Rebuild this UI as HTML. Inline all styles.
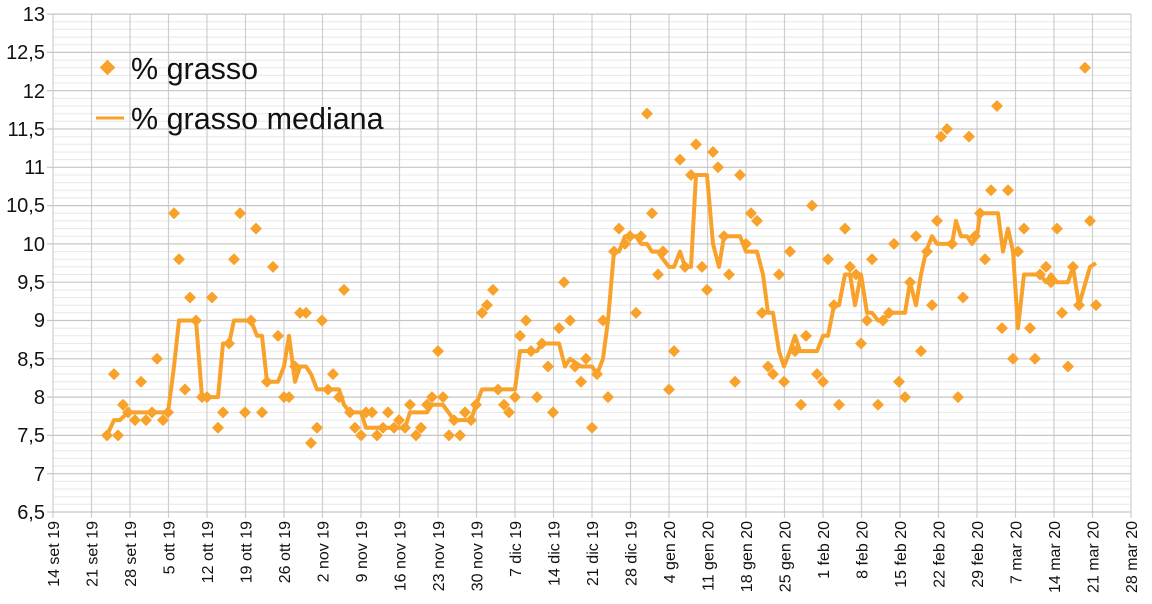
<!DOCTYPE html>
<html><head><meta charset="utf-8"><style>
html,body{margin:0;padding:0;background:#fff;}
svg{display:block;font-family:"Liberation Sans",sans-serif;}
</style></head><body>
<svg id="s" width="1152" height="604" viewBox="0 0 1152 604" xmlns="http://www.w3.org/2000/svg">
<g id="grid"></g>
<g font-size="20" fill="#111" text-anchor="end">
<text x="45" y="21">13</text><text x="45" y="59">12,5</text><text x="45" y="98">12</text><text x="45" y="136">11,5</text><text x="45" y="174">11</text><text x="45" y="212">10,5</text><text x="45" y="251">10</text><text x="45" y="289">9,5</text><text x="45" y="327">9</text><text x="45" y="366">8,5</text><text x="45" y="404">8</text><text x="45" y="442">7,5</text><text x="45" y="481">7</text><text x="45" y="519">6,5</text>
</g>
<g font-size="16" fill="#111" text-anchor="end">
<text transform="translate(59,521) rotate(-90)">14 set 19</text>
<text transform="translate(97.5,521) rotate(-90)">21 set 19</text>
<text transform="translate(136,521) rotate(-90)">28 set 19</text>
<text transform="translate(174.5,521) rotate(-90)">5 ott 19</text>
<text transform="translate(213,521) rotate(-90)">12 ott 19</text>
<text transform="translate(251.5,521) rotate(-90)">19 ott 19</text>
<text transform="translate(290,521) rotate(-90)">26 ott 19</text>
<text transform="translate(328.5,521) rotate(-90)">2 nov 19</text>
<text transform="translate(367,521) rotate(-90)">9 nov 19</text>
<text transform="translate(405.5,521) rotate(-90)">16 nov 19</text>
<text transform="translate(444,521) rotate(-90)">23 nov 19</text>
<text transform="translate(482.5,521) rotate(-90)">30 nov 19</text>
<text transform="translate(521,521) rotate(-90)">7 dic 19</text>
<text transform="translate(559.5,521) rotate(-90)">14 dic 19</text>
<text transform="translate(598,521) rotate(-90)">21 dic 19</text>
<text transform="translate(636.5,521) rotate(-90)">28 dic 19</text>
<text transform="translate(675,521) rotate(-90)">4 gen 20</text>
<text transform="translate(713.5,521) rotate(-90)">11 gen 20</text>
<text transform="translate(752,521) rotate(-90)">18 gen 20</text>
<text transform="translate(790.5,521) rotate(-90)">25 gen 20</text>
<text transform="translate(829,521) rotate(-90)">1 feb 20</text>
<text transform="translate(867.5,521) rotate(-90)">8 feb 20</text>
<text transform="translate(906,521) rotate(-90)">15 feb 20</text>
<text transform="translate(944.5,521) rotate(-90)">22 feb 20</text>
<text transform="translate(983,521) rotate(-90)">29 feb 20</text>
<text transform="translate(1021.5,521) rotate(-90)">7 mar 20</text>
<text transform="translate(1060,521) rotate(-90)">14 mar 20</text>
<text transform="translate(1098.5,521) rotate(-90)">21 mar 20</text>
<text transform="translate(1137,521) rotate(-90)">28 mar 20</text>
</g>
<polyline id="med" fill="none" stroke="#f8a12b" stroke-width="4" stroke-linejoin="round"/>
<g id="pts" fill="#f8a12b"></g>
<rect x="102" y="62" width="11" height="11" fill="#f8a12b" transform="rotate(45 107.5 67.5)"/>
<text x="131" y="79" font-size="30.5" fill="#111">% grasso</text>
<line x1="96" y1="118" x2="124" y2="118" stroke="#f8a12b" stroke-width="3"/>
<text x="131" y="129" font-size="30.5" fill="#111">% grasso mediana</text>
</svg>
<script>
function Y(v){return 512-(v-6.5)*76.6;}
var g=document.getElementById('grid'),h='';
for(var i=0;i<=65;i++){var v=6.5+i*0.1,y=Y(v).toFixed(1);var maj=(i%5==0);
 if(!maj)h+='<line x1="53" x2="1131" y1="'+y+'" y2="'+y+'" stroke="#e8e8e8" stroke-width="1"/>';}
for(var k=0;k<=28;k++){var x=53+k*38.5;h+='<line x1="'+x+'" x2="'+x+'" y1="14" y2="518" stroke="#cfcfcf" stroke-width="1.2"/>';}
for(var i=0;i<=13;i++){var y=Y(6.5+i*0.5).toFixed(1);h+='<line x1="47" x2="1131" y1="'+y+'" y2="'+y+'" stroke="#c6c6c6" stroke-width="1.2"/>';}
g.innerHTML=h;
var P=[[107,7.5],[114,8.3],[118,7.5],[123,7.9],[128,7.8],[135,7.7],[141,8.2],[146,7.7],[152,7.8],[157,8.5],[163,7.7],[168,7.8],[174,10.4],[179,9.8],[185,8.1],[190,9.3],[196,9.0],[202,8.0],[207,8.0],[212,9.3],[218,7.6],[223,7.8],[229,8.7],[234,9.8],[240,10.4],[245,7.8],[251,9.0],[256,10.2],[262,7.8],[267,8.2],[273,9.7],[278,8.8],[284,8.0],[289,8.0],[295,8.4],[300,9.1],[306,9.1],[311,7.4],[317,7.6],[322,9.0],[328,8.1],[333,8.3],[339,8.0],[344,9.4],[350,7.8],[355,7.6],[361,7.5],[366,7.8],[372,7.8],[377,7.5],[383,7.6],[388,7.8],[394,7.6],[399,7.7],[405,7.6],[410,7.9],[416,7.5],[421,7.6],[427,7.9],[432,8.0],[438,8.6],[443,8.0],[449,7.5],[454,7.7],[460,7.5],[465,7.8],[471,7.7],[476,7.9],[482,9.1],[487,9.2],[493,9.4],[498,8.1],[504,7.9],[509,7.8],[515,8.0],[520,8.8],[526,9.0],[531,8.6],[537,8.0],[542,8.7],[548,8.4],[553,7.8],[559,8.9],[564,9.5],[570,9.0],[575,8.4],[581,8.2],[586,8.5],[592,7.6],[597,8.3],[603,9.0],[608,8.0],[614,9.9],[619,10.2],[625,10.0],[630,10.1],[636,9.1],[641,10.1],[647,11.7],[652,10.4],[658,9.6],[663,9.9],[669,8.1],[674,8.6],[680,11.1],[685,9.7],[691,10.9],[696,11.3],[702,9.7],[707,9.4],[713,11.2],[718,11.0],[724,10.1],[729,9.6],[735,8.2],[740,10.9],[746,10.0],[751,10.4],[757,10.3],[762,9.1],[768,8.4],[773,8.3],[779,9.6],[784,8.2],[790,9.9],[795,8.6],[801,7.9],[806,8.8],[812,10.5],[817,8.3],[823,8.2],[828,9.8],[834,9.2],[839,7.9],[845,10.2],[850,9.7],[856,9.6],[861,8.7],[867,9.0],[872,9.8],[878,7.9],[883,9.0],[889,9.1],[894,10.0],[899,8.2],[905,8.0],[910,9.5],[916,10.1],[921,8.6],[927,9.9],[932,9.2],[937,10.3],[941,11.4],[947,11.5],[952,10.0],[958,8.0],[963,9.3],[969,11.4],[975,10.1],[980,10.4],[985,9.8],[991,10.7],[997,11.8],[1002,8.9],[1008,10.7],[1013,8.5],[1018,9.9],[1024,10.2],[1030,8.9],[1035,8.5],[1040,9.6],[1046,9.7],[1051,9.5],[1057,10.2],[1062,9.1],[1068,8.4],[1073,9.7],[1079,9.2],[1085,12.3],[1090,10.3],[1096,9.2]];
var M=[[107,7.5],[114,7.7],[120,7.7],[128,7.8],[168,7.8],[174,8.4],[179,9.0],[196,9.0],[202,8.0],[218,8.0],[223,8.7],[229,8.7],[234,9.0],[251,9.0],[257,8.8],[262,8.8],[267,8.2],[278,8.2],[284,8.4],[289,8.8],[295,8.2],[300,8.4],[306,8.4],[311,8.3],[317,8.1],[339,8.1],[344,7.9],[350,7.8],[361,7.8],[366,7.6],[405,7.6],[410,7.8],[427,7.8],[432,7.9],[443,7.9],[454,7.7],[471,7.7],[476,7.9],[482,8.1],[515,8.1],[520,8.6],[537,8.6],[542,8.7],[559,8.7],[565,8.4],[570,8.5],[581,8.4],[592,8.4],[597,8.3],[603,8.5],[608,9.0],[614,9.9],[619,9.9],[625,10.1],[636,10.1],[641,10.0],[647,10.0],[652,9.9],[658,9.9],[663,9.8],[669,9.7],[674,9.7],[680,9.9],[685,9.7],[691,9.7],[696,10.9],[707,10.9],[713,10.0],[719,9.7],[724,10.1],[740,10.1],[746,9.9],[757,9.9],[763,9.6],[768,9.1],[773,9.1],[779,8.6],[784,8.4],[790,8.6],[795,8.8],[800,8.6],[817,8.6],[823,8.8],[828,8.8],[834,9.2],[839,9.2],[845,9.6],[850,9.6],[855,9.2],[861,9.6],[867,9.1],[872,9.1],[878,9.0],[883,9.0],[889,9.1],[905,9.1],[910,9.5],[916,9.2],[921,9.6],[926,9.9],[932,10.1],[937,10.0],[952,10.0],[956,10.3],[961,10.1],[967,10.1],[972,10.0],[977,10.1],[980,10.4],[998,10.4],[1003,9.9],[1008,10.2],[1013,9.9],[1018,8.9],[1024,9.6],[1040,9.6],[1046,9.5],[1051,9.6],[1057,9.5],[1068,9.5],[1073,9.7],[1079,9.2],[1090,9.7],[1096,9.75]];
document.getElementById('med').setAttribute('points',M.map(function(p){return p[0]+','+Y(p[1]).toFixed(1);}).join(' '));
var s='';P.forEach(function(p){var x=p[0],y=Y(p[1]);s+='<path d="M'+x+' '+(y-6)+'L'+(x+6)+' '+y+'L'+x+' '+(y+6)+'L'+(x-6)+' '+y+'Z"/>';});
document.getElementById('pts').innerHTML=s;
</script>
</body></html>
